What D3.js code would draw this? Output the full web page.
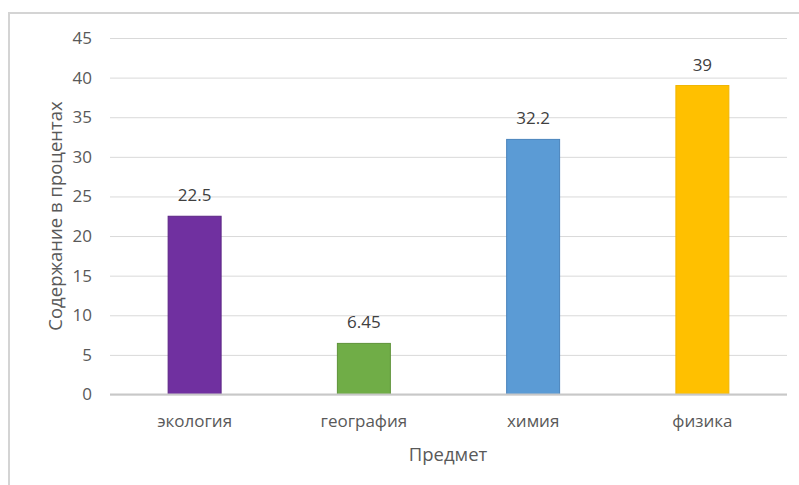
<!DOCTYPE html>
<html>
<head>
<meta charset="utf-8">
<script src="https://cdnjs.cloudflare.com/ajax/libs/d3/7.8.5/d3.min.js"></script>
<style>
  body { margin: 0; background: #fff; }
</style>
</head>
<body>
<div class="area"></div>
<script>
var subjects = ['экология', 'география', 'химия', 'физика'];
var values = [22.5, 6.45, 32.2, 39];
var barColors = ['#7030A0', '#70AD47', '#5B9BD5', '#FFC000'];
var barStrokes = ['#5B2584', '#5E9339', '#4A84BC', '#F0B400'];
var yTicks = [0, 5, 10, 15, 20, 25, 30, 35, 40, 45];

var font = 'Open Sans, sans-serif';

var svg = d3.select('.area')
    .append('svg')
    .attr('width', 799)
    .attr('height', 485);

// chart frame
svg.append('rect')
    .attr('x', 9)
    .attr('y', 13)
    .attr('width', 820)
    .attr('height', 500)
    .attr('fill', 'white')
    .style('stroke', '#D4D4D4')
    .style('stroke-width', 2);

var x = d3.scaleBand()
    .domain(subjects)
    .range([110, 787])
    .paddingInner(0.687)
    .paddingOuter(0.3435);

var y = d3.scaleLinear()
    .domain([0, 45])
    .range([394.5, 38]);

// gridlines + tick labels
var yAxis = svg.append('g')
    .attr('transform', 'translate(110,0)')
    .call(d3.axisLeft(y).tickValues(yTicks).tickSize(-677).tickPadding(18));
yAxis.select('.domain').remove();
yAxis.selectAll('.tick line')
    .style('stroke', '#D9D9D9')
    .style('stroke-width', 1);
yAxis.selectAll('.tick text')
    .style('font-family', font)
    .style('font-size', '17px')
    .attr('fill', '#595959');

// bars
svg.selectAll('.bar')
    .data(values)
    .enter()
    .append('rect')
    .attr('class', 'bar')
    .attr('x', function(d, i) { return x(subjects[i]); })
    .attr('y', function(d) { return y(d); })
    .attr('width', x.bandwidth())
    .attr('height', function(d) { return y(0) - y(d); })
    .attr('fill', function(d, i) { return barColors[i]; })
    .style('stroke', function(d, i) { return barStrokes[i]; })
    .style('stroke-width', 1);

// x axis line
svg.append('line')
    .attr('x1', 110)
    .attr('x2', 787)
    .attr('y1', y(0))
    .attr('y2', y(0))
    .style('stroke', '#C8C8C8')
    .style('stroke-width', 2);

// data labels
svg.selectAll('.lbl')
    .data(values)
    .enter()
    .append('text')
    .attr('x', function(d, i) { return x(subjects[i]) + x.bandwidth() / 2; })
    .attr('y', function(d) { return y(d) - 15; })
    .attr('text-anchor', 'middle')
    .text(function(d) { return d; })
    .style('font-family', font)
    .style('font-size', '17px')
    .attr('fill', '#404040');

// category labels
var xAxis = svg.append('g')
    .attr('transform', 'translate(0,' + y(0) + ')')
    .call(d3.axisBottom(x).tickSize(0).tickPadding(20));
xAxis.select('.domain').remove();
xAxis.selectAll('.tick text')
    .style('font-family', font)
    .style('font-size', '17px')
    .attr('fill', '#595959');

// axis titles
svg.append('text')
    .attr('x', 448)
    .attr('y', 461)
    .attr('text-anchor', 'middle')
    .text('Предмет')
    .style('font-family', font)
    .style('font-size', '18.5px')
    .attr('fill', '#595959');

svg.append('text')
    .attr('transform', 'translate(62,216) rotate(-90)')
    .attr('text-anchor', 'middle')
    .text('Содержание в процентах')
    .style('font-family', font)
    .style('font-size', '18.5px')
    .attr('fill', '#595959');
</script>
</body>
</html>
